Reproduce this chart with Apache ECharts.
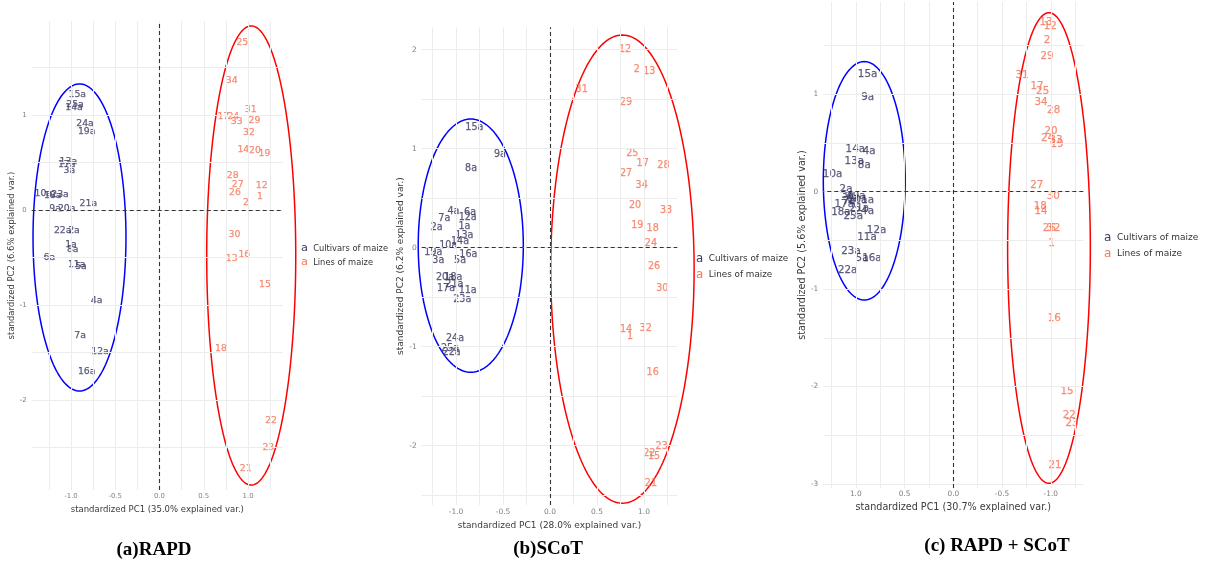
<!DOCTYPE html>
<html>
<head>
<meta charset="utf-8">
<script src="https://cdn.jsdelivr.net/npm/echarts@6/dist/echarts.min.js"></script>
<style>
html, body { margin: 0; padding: 0; background: #ffffff; }
#chart { width: 1215px; height: 562px; }
</style>
</head>
<body>
<div id="chart"></div>
<script>
const CULT = 'Cultivars of maize';
const LINE = 'Lines of maize';

// ---------- (a) RAPD: PCA scores ----------
const rapdCultLabels = ['15a','25a','14a','24a','19a','13a','17a','3a','10a','18a','23a','9a','20a','21a','22a','2a','1a','8a','6a','11a','5a','4a','7a','12a','16a'];
const rapdCultPC1 = [-0.929,-0.955,-0.966,-0.842,-0.823,-1.030,-1.049,-1.019,-1.313,-1.207,-1.124,-1.180,-1.049,-0.804,-1.094,-0.966,-1.000,-0.981,-1.245,-0.936,-0.887,-0.710,-0.898,-0.672,-0.823];
const rapdCultPC2 = [1.218,1.112,1.077,0.912,0.824,0.509,0.474,0.410,0.168,0.150,0.165,0.018,0.018,0.063,-0.218,-0.218,-0.361,-0.421,-0.505,-0.579,-0.597,-0.955,-1.326,-1.492,-1.705];
const rapdLineLabels = ['25','34','31','17','24','33','29','32','14','20','19','28','27','12','26','1','2','30','16','13','15','18','22','23','21'];
const rapdLinePC1 = [0.936,0.816,1.030,0.721,0.834,0.872,1.072,1.011,0.947,1.079,1.185,0.827,0.883,1.154,0.853,1.136,0.977,0.846,0.958,0.816,1.192,0.695,1.260,1.229,0.974];
const rapdLinePC2 = [1.761,1.365,1.060,0.982,0.982,0.930,0.940,0.818,0.632,0.621,0.597,0.365,0.270,0.256,0.182,0.140,0.077,-0.256,-0.474,-0.516,-0.789,-1.456,-2.218,-2.502,-2.726];
// confidence ellipses: [centre PC1, centre PC2, half-width, half-height]
const rapdCultEllipse = [-0.904, -0.289, 0.525, 1.616];
const rapdLineEllipse = [1.036, -0.479, 0.503, 2.416];

// ---------- (b) SCoT: PCA scores ----------
const scotCultLabels = ['15a','9a','8a','4a','6a','7a','12a','2a','1a','13a','14a','10a','19a','16a','3a','5a','20a','18a','17a','21a','11a','23a','24a','25a','22a'];
const scotCultPC1 = [-0.805,-0.532,-0.840,-1.028,-0.851,-1.124,-0.876,-1.205,-0.911,-0.911,-0.957,-1.082,-1.241,-0.869,-1.188,-0.957,-1.117,-1.028,-1.106,-1.018,-0.876,-0.933,-1.011,-1.064,-1.046];
const scotCultPC2 = [1.216,0.936,0.802,0.364,0.357,0.290,0.307,0.206,0.212,0.118,0.061,0.020,-0.047,-0.074,-0.134,-0.134,-0.303,-0.303,-0.410,-0.377,-0.434,-0.528,-0.915,-1.016,-1.060];
const scotLineLabels = ['12','2','13','31','29','25','17','28','27','34','20','33','19','18','24','26','30','14','1','32','16','23','22','15','21'];
const scotLinePC1 = [0.798,0.922,1.056,0.337,0.809,0.876,0.986,1.206,0.809,0.975,0.904,1.234,0.929,1.092,1.074,1.106,1.195,0.809,0.851,1.018,1.092,1.188,1.056,1.106,1.074];
const scotLinePC2 = [2.004,1.795,1.778,1.593,1.469,0.953,0.852,0.825,0.744,0.626,0.421,0.371,0.222,0.189,0.037,-0.192,-0.410,-0.831,-0.899,-0.814,-1.259,-2.010,-2.077,-2.111,-2.387];
const scotCultEllipse = [-0.843, 0.020, 0.559, 1.279];
const scotLineEllipse = [0.770, -0.217, 0.763, 2.365];

// ---------- (c) RAPD + SCoT: PCA scores ----------
const bothCultLabels = ['15a','9a','14a','4a','13a','8a','10a','2a','3a','19a','6a','20a','7a','1a','17a','21a','24a','18a','25a','12a','11a','23a','5a','16a','22a'];
const bothCultPC1 = [0.879,0.879,1.005,0.862,1.015,0.913,1.238,1.100,1.084,0.998,1.033,0.982,1.067,0.879,1.118,0.964,0.913,1.152,1.026,0.787,0.885,1.049,0.936,0.834,1.084];
const bothCultPC2 = [1.208,0.969,0.435,0.418,0.308,0.267,0.182,0.028,-0.034,-0.051,-0.068,-0.085,-0.103,-0.092,-0.126,-0.170,-0.198,-0.212,-0.257,-0.393,-0.472,-0.609,-0.684,-0.684,-0.811];
const bothLineLabels = ['13','12','2','29','31','17','25','34','28','20','24','33','19','27','30','18','14','26','32','1','16','15','22','23','21'];
const bothLinePC1 = [-0.951,-0.995,-0.961,-0.961,-0.705,-0.858,-0.916,-0.899,-1.029,-1.002,-0.967,-1.053,-1.064,-0.855,-1.026,-0.892,-0.899,-0.985,-1.029,-1.008,-1.036,-1.166,-1.190,-1.217,-1.043];
const bothLinePC2 = [1.735,1.694,1.558,1.386,1.198,1.078,1.034,0.914,0.839,0.616,0.548,0.531,0.487,0.062,-0.044,-0.154,-0.205,-0.376,-0.376,-0.530,-1.300,-2.053,-2.293,-2.378,-2.813];
const bothCultEllipse = [0.913, 0.112, 0.420, 1.224];
const bothLineEllipse = [-0.981, -0.578, 0.424, 2.416];

// ---------- axis ticks and grid lines ----------
const pc1TickLabels = [-1, -0.5, 0, 0.5, 1];
const pc1GridLines = [-1.25, -1, -0.75, -0.5, -0.25, 0, 0.25, 0.5, 0.75, 1, 1.25];
const rapdPC2TickLabels = [-2, -1, 0, 1];
const rapdPC2GridLines = [-2.5, -2, -1.5, -1, -0.5, 0, 0.5, 1, 1.5];
const scotPC2TickLabels = [-2, -1, 0, 1, 2];
const scotPC2GridLines = [-2.5, -2, -1.5, -1, -0.5, 0, 0.5, 1, 1.5, 2];
const bothPC2TickLabels = [-3, -2, -1, 0, 1];
const bothPC2GridLines = [-3, -2.5, -2, -1.5, -1, -0.5, 0, 0.5, 1, 1.5];

const FONT = 'DejaVu Sans';
const CULT_COLOR = '#3b3b63';
const LINE_COLOR = '#f4775a';
const GRID_COLOR = '#ececec';

const panels = [
  {
    title: '(a)RAPD', titlePos: [154, 550],
    grid: { left: 31.7, top: 21, width: 251.3, height: 469 },
    x: { min: -1.444, max: 1.395, inverse: false, name: 'standardized PC1 (35.0% explained var.)', gap: 12 },
    y: { min: -2.947, max: 1.989, name: 'standardized PC2 (6.6% explained var.)', gap: 13 },
    yTicks: rapdPC2TickLabels, xGrid: pc1GridLines, yGrid: rapdPC2GridLines,
    cult: [rapdCultLabels, rapdCultPC1, rapdCultPC2], line: [rapdLineLabels, rapdLinePC1, rapdLinePC2],
    ellipses: [rapdCultEllipse, rapdLineEllipse],
    tick: 6.9, axisName: 8.5, point: 9.3, legendFont: 8.3, legend: { left: 296, top: 243, gap: 3 }
  },
  {
    title: '(b)SCoT', titlePos: [548, 549],
    grid: { left: 421.7, top: 27.3, width: 255.6, height: 477.7 },
    x: { min: -1.365, max: 1.354, inverse: false, name: 'standardized PC1 (28.0% explained var.)', gap: 12 },
    y: { min: -2.6, max: 2.226, name: 'standardized PC2 (6.2% explained var.)', gap: 13 },
    yTicks: scotPC2TickLabels, xGrid: pc1GridLines, yGrid: scotPC2GridLines,
    cult: [scotCultLabels, scotCultPC1, scotCultPC2], line: [scotLineLabels, scotLinePC1, scotLinePC2],
    ellipses: [scotCultEllipse, scotLineEllipse],
    tick: 7.5, axisName: 9, point: 9.6, legendFont: 8.8, legend: { left: 691, top: 253, gap: 4 }
  },
  {
    title: '(c) RAPD + SCoT', titlePos: [997, 546],
    grid: { left: 823.3, top: 2, width: 260, height: 486 },
    x: { min: -1.333, max: 1.333, inverse: true, name: 'standardized PC1 (30.7% explained var.)', gap: 10 },
    y: { min: -3.042, max: 1.948, name: 'standardized PC2 (5.6% explained var.)', gap: 14 },
    yTicks: bothPC2TickLabels, xGrid: pc1GridLines, yGrid: bothPC2GridLines,
    cult: [bothCultLabels, bothCultPC1, bothCultPC2], line: [bothLineLabels, bothLinePC1, bothLinePC2],
    ellipses: [bothCultEllipse, bothLineEllipse],
    tick: 7.4, axisName: 9.6, point: 10.3, legendFont: 9, legend: { left: 1099, top: 232, gap: 4 }
  }
];

function ellipsePath(e) {
  const [cx, cy, rx, ry] = e;
  const pts = [];
  const n = 200;
  for (let i = 0; i <= n; i++) {
    const t = (i / n) * Math.PI * 2;
    pts.push([cx + rx * Math.cos(t), cy + ry * Math.sin(t)]);
  }
  return pts;
}

function scores(group) {
  const [labels, pc1, pc2] = group;
  return labels.map((lab, i) => [pc1[i], pc2[i], lab]);
}

const grids = [], xAxes = [], yAxes = [], series = [], legends = [], graphics = [];

panels.forEach((p, i) => {
  grids.push(Object.assign({ containLabel: false }, p.grid));

  xAxes.push({
    type: 'value', gridIndex: i, min: p.x.min, max: p.x.max, inverse: p.x.inverse,
    name: p.x.name, nameLocation: 'middle', nameGap: p.x.gap,
    nameTextStyle: { fontFamily: FONT, fontSize: p.axisName, color: '#3a3a3a' },
    axisLine: { show: false }, axisTick: { show: false }, splitLine: { show: false },
    axisLabel: {
      customValues: pc1TickLabels, margin: 3,
      fontFamily: FONT, fontSize: p.tick, color: '#808080',
      formatter: v => Number(v).toFixed(1)
    }
  });

  yAxes.push({
    type: 'value', gridIndex: i, min: p.y.min, max: p.y.max,
    name: p.y.name, nameLocation: 'middle', nameGap: p.y.gap, nameRotate: 90,
    nameTextStyle: { fontFamily: FONT, fontSize: p.axisName, color: '#3a3a3a' },
    axisLine: { show: false }, axisTick: { show: false }, splitLine: { show: false },
    axisLabel: {
      customValues: p.yTicks, margin: 5,
      fontFamily: FONT, fontSize: p.tick, color: '#808080',
      formatter: v => String(Math.round(v))
    }
  });

  const gridStyle = { color: GRID_COLOR, width: 1, type: 'solid' };
  const zeroStyle = { color: '#333333', width: 1.1, type: [4, 3] };

  // panel grid lines and the dashed zero lines
  series.push({
    type: 'scatter', name: 'grid-' + i, xAxisIndex: i, yAxisIndex: i, data: [],
    silent: true, z: 1, animation: false,
    markLine: {
      silent: true, animation: false, symbol: ['none', 'none'],
      label: { show: false }, emphasis: { disabled: true },
      data: [
        ...p.xGrid.map(v => ({ xAxis: v, lineStyle: gridStyle })),
        ...p.yGrid.map(v => ({ yAxis: v, lineStyle: gridStyle })),
        { xAxis: 0, lineStyle: zeroStyle },
        { yAxis: 0, lineStyle: zeroStyle }
      ]
    }
  });

  // group ellipses, drawn through the axis scales and allowed to pass the panel edge
  [[p.ellipses[0], '#0000ff'], [p.ellipses[1], '#ff0000']].forEach(([e, col], k) => {
    series.push({
      type: 'custom', name: 'ellipse-' + i + '-' + k, coordinateSystem: 'cartesian2d',
      xAxisIndex: i, yAxisIndex: i, data: [[e[0], e[1]]], encode: { x: 0, y: 1 },
      clip: false, silent: true, z: 2, animation: false,
      renderItem: (params, api) => ({
        type: 'polyline',
        shape: { points: ellipsePath(e).map(pt => api.coord(pt)) },
        style: { stroke: col, lineWidth: 1.5, fill: null }
      })
    });
  });

  // sample labels placed at their scores
  [[CULT, p.cult, CULT_COLOR], [LINE, p.line, LINE_COLOR]].forEach(([name, g, col]) => {
    series.push({
      type: 'scatter', name: name, xAxisIndex: i, yAxisIndex: i,
      data: scores(g), symbol: 'circle', symbolSize: 1, clip: false,
      itemStyle: { color: 'rgba(0,0,0,0)' }, z: 3, animation: false, silent: true,
      label: {
        show: true, position: 'inside', formatter: q => q.value[2],
        color: col, fontFamily: FONT, fontSize: p.point,
        textBorderColor: col, textBorderWidth: 0.25
      }
    });
  });

  legends.push({
    data: [CULT, LINE], orient: 'vertical', left: p.legend.left, top: p.legend.top,
    icon: 'none', itemWidth: 0, itemHeight: 10, itemGap: p.legend.gap, selectedMode: false,
    padding: 0,
    formatter: n => (n === CULT ? '{kc|a}' : '{kl|a}') + '  ' + n,
    textStyle: {
      fontFamily: FONT, fontSize: p.legendFont, color: '#333333',
      rich: {
        kc: { color: CULT_COLOR, fontSize: p.legendFont + 3, fontFamily: FONT },
        kl: { color: LINE_COLOR, fontSize: p.legendFont + 3, fontFamily: FONT }
      }
    }
  });

  graphics.push({
    type: 'text', x: p.titlePos[0], y: p.titlePos[1], silent: true,
    style: {
      text: p.title, fill: '#000000',
      fontFamily: '"Liberation Serif", serif', fontWeight: 'bold', fontSize: 19,
      align: 'center', verticalAlign: 'middle', textAlign: 'center', textVerticalAlign: 'middle'
    }
  });
});

const chart = echarts.init(document.getElementById('chart'), null, { renderer: 'canvas' });
chart.setOption({
  backgroundColor: '#ffffff',
  animation: false,
  grid: grids,
  xAxis: xAxes,
  yAxis: yAxes,
  legend: legends,
  graphic: graphics,
  series: series
});
</script>
</body>
</html>
